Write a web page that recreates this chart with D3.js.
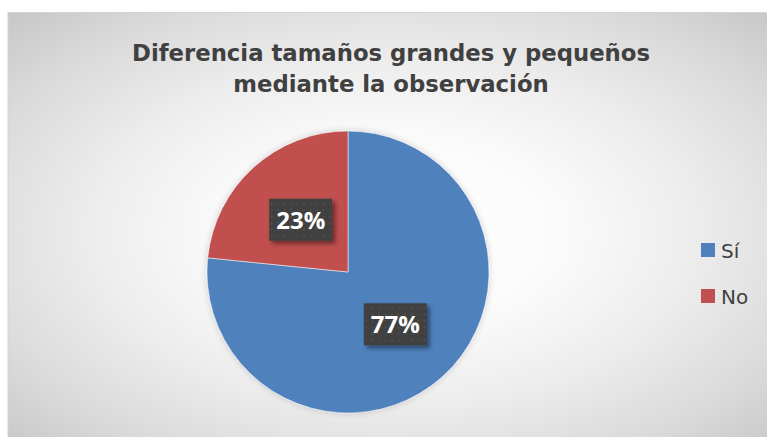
<!DOCTYPE html>
<html>
<head>
<meta charset="utf-8">
<script src="https://cdn.jsdelivr.net/npm/d3@7"></script>
<style>
  html, body { margin: 0; padding: 0; background: #ffffff; }
  svg { display: block; }
</style>
</head>
<body>
<svg id="chart" width="767" height="437"></svg>
<script>
// ---- data ----
const categories = ["Sí", "No"];
const values = [76.6, 23.4];
const colors = ["#4f81bd", "#c0504d"];
const titleLines = ["Diferencia tamaños grandes y pequeños", "mediante la observación"];

const W = 767, H = 437;
const svg = d3.select("#chart");
const defs = svg.append("defs");

// background gradient
const grad = defs.append("radialGradient").attr("id", "bg")
  .attr("cx", 0.5).attr("cy", 0.5).attr("r", 0.707);
[[0, "#ffffff"], [0.3, "#fbfbfb"], [0.55, "#ededed"], [0.8, "#dadada"], [1, "#c6c6c6"]]
  .forEach(([o, c]) => grad.append("stop").attr("offset", o).attr("stop-color", c));

// pie shadow
const ps = defs.append("filter").attr("id", "pieShadow")
  .attr("x", "-20%").attr("y", "-20%").attr("width", "140%").attr("height", "140%");
ps.append("feDropShadow").attr("dx", 0).attr("dy", 0).attr("stdDeviation", 3)
  .attr("flood-color", "#000").attr("flood-opacity", 0.18);

// label shadow
const ls = defs.append("filter").attr("id", "lblShadow")
  .attr("x", "-30%").attr("y", "-30%").attr("width", "170%").attr("height", "180%");
ls.append("feDropShadow").attr("dx", 3).attr("dy", 3).attr("stdDeviation", 2.2)
  .attr("flood-color", "#000").attr("flood-opacity", 0.45);

// dotted pattern for label boxes
const pat = defs.append("pattern").attr("id", "dots")
  .attr("patternUnits", "userSpaceOnUse").attr("width", 6.5).attr("height", 6.5);
pat.append("rect").attr("width", 6.5).attr("height", 6.5).attr("fill", "#3f3f3f");
pat.append("rect").attr("x", 2.5).attr("y", 2.5).attr("width", 1.6).attr("height", 1.6).attr("fill", "#555555");

// chart area
svg.append("rect").attr("x", 8).attr("y", 12.5).attr("width", 770).attr("height", 440)
  .attr("fill", "url(#bg)").attr("stroke", "#d4d4d4").attr("stroke-width", 1);

// title
const title = svg.append("text")
  .attr("text-anchor", "middle")
  .attr("font-family", "'DejaVu Sans', Lato, sans-serif")
  .attr("font-weight", 700)
  .attr("font-size", 24)
  .attr("fill", "#404040");
const tspans = titleLines.map((t, i) =>
  title.append("tspan").attr("x", 391).attr("y", 61 + i * 31).text(t));
// fit first line to the reference width
const w0 = tspans[0].node().getComputedTextLength();
const fs = 24 * 518 / w0;
title.attr("font-size", fs);

// pie
const cx = 348, cy = 272, R = 141;
const pie = d3.pie().sort(null).value(d => d.v);
const data = categories.map((c, i) => ({ c, v: values[i], col: colors[i] }));
const arcs = pie(data);
const arc = d3.arc().innerRadius(0).outerRadius(R);
const labelArc = d3.arc().innerRadius(R * 0.5).outerRadius(R * 0.5);
const total = d3.sum(values);

const g = svg.append("g").attr("transform", `translate(${cx},${cy})`);
g.append("g").attr("filter", "url(#pieShadow)")
  .selectAll("path").data(arcs).join("path")
  .attr("d", arc)
  .attr("fill", d => d.data.col)
  .attr("stroke", "rgba(255,255,255,0.5)")
  .attr("stroke-width", 1);

// labels
const bw = 63, bh = 42;
const lg = g.selectAll("g.lbl").data(arcs).join("g").attr("class", "lbl")
  .attr("transform", d => { const [x, y] = labelArc.centroid(d); return `translate(${x},${y})`; });
lg.append("rect")
  .attr("x", -bw / 2).attr("y", -bh / 2).attr("width", bw).attr("height", bh)
  .attr("fill", "url(#dots)").attr("filter", "url(#lblShadow)");
lg.append("text")
  .attr("text-anchor", "middle")
  .attr("y", 9)
  .attr("font-family", "'Open Sans', Lato, sans-serif")
  .attr("font-weight", 700)
  .attr("font-size", 24)
  .attr("fill", "#ffffff")
  .text(d => Math.round(d.data.v / total * 100) + "%");

// legend
const legend = svg.append("g");
const li = legend.selectAll("g").data(data).join("g")
  .attr("transform", (d, i) => `translate(701,${243 + i * 46})`);
li.append("rect").attr("width", 14).attr("height", 14).attr("fill", d => d.col);
li.append("text")
  .attr("x", 20).attr("y", 15)
  .attr("font-family", "'DejaVu Sans', Lato, sans-serif")
  .attr("font-size", 20)
  .attr("fill", "#404040")
  .text(d => d.c);
</script>
</body>
</html>
